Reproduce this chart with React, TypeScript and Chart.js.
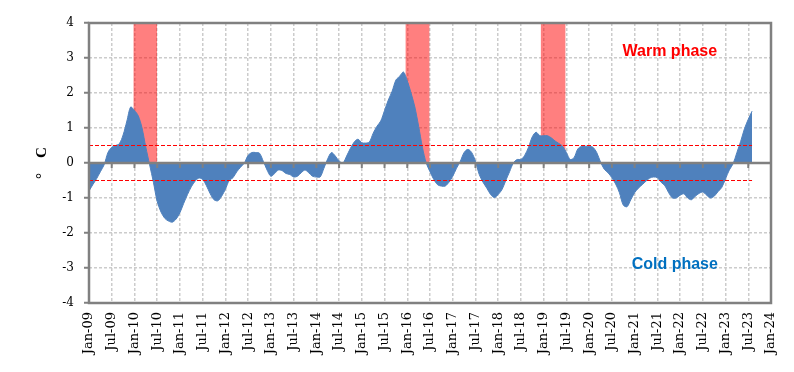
import React, { useEffect, useRef } from 'react';
import { Chart, registerables } from 'chart.js';

Chart.register(...registerables);

// Tick labels every 6 months, Jan-09 .. Jan-24 (month index 0 .. 180)
const tickLabels = [
  'Jan-09', 'Jul-09', 'Jan-10', 'Jul-10', 'Jan-11', 'Jul-11', 'Jan-12', 'Jul-12',
  'Jan-13', 'Jul-13', 'Jan-14', 'Jul-14', 'Jan-15', 'Jul-15', 'Jan-16', 'Jul-16',
  'Jan-17', 'Jul-17', 'Jan-18', 'Jul-18', 'Jan-19', 'Jul-19', 'Jan-20', 'Jul-20',
  'Jan-21', 'Jul-21', 'Jan-22', 'Jul-22', 'Jan-23', 'Jul-23', 'Jan-24',
];
const axisMonths = 180;
const tickStepMonths = 6;

// Monthly anomalies (°C), one array per year
const a2009 = [-0.8, -0.62, -0.45, -0.25, -0.05, 0.3, 0.45, 0.5, 0.55, 0.8, 1.2, 1.6];
const a2010 = [1.5, 1.35, 1.0, 0.45, -0.05, -0.55, -1.1, -1.4, -1.58, -1.66, -1.69, -1.6];
const a2011 = [-1.42, -1.15, -0.9, -0.68, -0.52, -0.43, -0.47, -0.65, -0.88, -1.05, -1.08, -0.95];
const a2012 = [-0.75, -0.5, -0.42, -0.25, -0.12, 0.0, 0.22, 0.3, 0.3, 0.28, 0.05, -0.2];
const a2013 = [-0.38, -0.3, -0.2, -0.22, -0.3, -0.33, -0.4, -0.38, -0.28, -0.2, -0.28, -0.38];
const a2014 = [-0.4, -0.4, -0.15, 0.12, 0.3, 0.2, 0.06, 0.0, 0.2, 0.42, 0.6, 0.68];
const a2015 = [0.58, 0.57, 0.6, 0.85, 1.05, 1.2, 1.5, 1.8, 2.05, 2.37, 2.48, 2.6];
const a2016 = [2.35, 2.0, 1.6, 1.05, 0.45, 0.0, -0.25, -0.47, -0.62, -0.66, -0.66, -0.55];
const a2017 = [-0.38, -0.15, 0.05, 0.3, 0.39, 0.3, 0.05, -0.33, -0.55, -0.72, -0.9, -0.99];
const a2018 = [-0.9, -0.76, -0.5, -0.25, 0.0, 0.1, 0.1, 0.22, 0.45, 0.75, 0.88, 0.78];
const a2019 = [0.78, 0.78, 0.72, 0.63, 0.56, 0.48, 0.3, 0.1, 0.15, 0.4, 0.48, 0.48];
const a2020 = [0.48, 0.45, 0.3, 0.03, -0.18, -0.28, -0.42, -0.6, -0.85, -1.2, -1.25, -1.05];
const a2021 = [-0.85, -0.72, -0.62, -0.52, -0.43, -0.4, -0.42, -0.55, -0.65, -0.85, -1.0, -1.0];
const a2022 = [-0.92, -0.88, -1.0, -1.05, -0.95, -0.87, -0.83, -0.92, -1.0, -0.95, -0.82, -0.7];
const a2023 = [-0.45, -0.2, -0.02, 0.3, 0.62, 0.98, 1.25, 1.48];

const anomalies = [
  ...a2009, ...a2010, ...a2011, ...a2012, ...a2013, ...a2014, ...a2015, ...a2016,
  ...a2017, ...a2018, ...a2019, ...a2020, ...a2021, ...a2022, ...a2023,
];

// Thresholds
const warmThreshold = 0.5;
const coldThreshold = -0.5;

// Warm-phase highlight periods (month index from Jan-09)
const warmStart = [11.7, 83.5, 119.2];
const warmEnd = [18.0, 89.9, 125.8];
const warmTop = 4;

// Annotation anchors [month index, value]
const warmLabelAt = [153.3, 3.17];
const coldLabelAt = [154.6, -2.89];

const AXIS_GRAY = '#808080';

const framePlugin = {
  id: 'frame',
  afterDatasetsDraw(chart: any) {
    const { ctx, chartArea: a, scales } = chart;
    const x = scales.x;
    const y = scales.y;
    ctx.save();
    ctx.setLineDash([]);
    ctx.strokeStyle = AXIS_GRAY;
    ctx.lineWidth = 2.5;
    ctx.beginPath();
    ctx.rect(a.left, a.top, a.right - a.left, a.bottom - a.top);
    ctx.stroke();
    const y0 = y.getPixelForValue(0);
    ctx.beginPath();
    ctx.moveTo(a.left, y0);
    ctx.lineTo(a.right, y0);
    ctx.stroke();
    ctx.lineWidth = 2;
    ctx.beginPath();
    for (const t of x.ticks) {
      const px = x.getPixelForValue(t.value);
      ctx.moveTo(px, y0);
      ctx.lineTo(px, y0 + 5);
    }
    ctx.stroke();

    ctx.font = 'bold 16px "Liberation Sans", Arial, sans-serif';
    ctx.textAlign = 'center';
    ctx.textBaseline = 'middle';
    ctx.fillStyle = '#FF0000';
    ctx.fillText('Warm phase', x.getPixelForValue(warmLabelAt[0]), y.getPixelForValue(warmLabelAt[1]));
    ctx.fillStyle = '#0070C0';
    ctx.fillText('Cold phase', x.getPixelForValue(coldLabelAt[0]), y.getPixelForValue(coldLabelAt[1]));
    ctx.restore();
  },
};

export default function App() {
  const ref = useRef<HTMLCanvasElement | null>(null);

  useEffect(() => {
    if (!ref.current) return;
    const series = anomalies.map((v, i) => ({ x: i, y: v }));
    const lastIdx = anomalies.length - 1;

    const warmSets = warmStart.map((s, k) => ({
      type: 'line' as const,
      data: [
        { x: s, y: warmTop },
        { x: warmEnd[k], y: warmTop },
      ],
      borderWidth: 0,
      borderColor: 'rgba(0,0,0,0)',
      backgroundColor: 'rgba(255,0,0,0.5)',
      fill: 'origin',
      pointRadius: 0,
      order: 3,
    }));

    const chart = new Chart(ref.current, {
      type: 'line',
      data: {
        datasets: [
          {
            data: [
              { x: 0, y: warmThreshold },
              { x: lastIdx, y: warmThreshold },
            ],
            borderColor: '#FF0000',
            borderWidth: 1,
            borderDash: [4, 2],
            pointRadius: 0,
            fill: false,
            order: 0,
          },
          {
            data: [
              { x: 0, y: coldThreshold },
              { x: lastIdx, y: coldThreshold },
            ],
            borderColor: '#FF0000',
            borderWidth: 1,
            borderDash: [4, 2],
            pointRadius: 0,
            fill: false,
            order: 0,
          },
          {
            data: series,
            borderColor: '#4F81BD',
            borderWidth: 1,
            backgroundColor: '#4F81BD',
            fill: 'origin',
            pointRadius: 0,
            tension: 0.3,
            order: 1,
          },
          ...warmSets,
        ] as any,
      },
      options: {
        animation: false,
        responsive: false,
        devicePixelRatio: 1,
        layout: { padding: { top: 23, right: 23, bottom: 0, left: 0 } },
        plugins: {
          legend: { display: false },
          tooltip: { enabled: false },
        },
        scales: {
          x: {
            type: 'linear',
            min: 0,
            max: axisMonths,
            afterFit(scale: any) {
              scale.height = 69;
              scale.paddingLeft = 0;
              scale.paddingRight = 0;
            },
            ticks: {
              stepSize: tickStepMonths,
              maxTicksLimit: 100,
              autoSkip: false,
              minRotation: 90,
              maxRotation: 90,
              padding: 9,
              color: '#000000',
              font: { family: '"DejaVu Serif", serif', size: 13 },
              callback: (v: any) => tickLabels[Math.round(Number(v) / tickStepMonths)] ?? '',
            },
            grid: {
              color: '#cccccc',
              lineWidth: 1.5,
              drawTicks: false,
            },
            border: { display: false, dash: [3, 2] },
          },
          y: {
            type: 'linear',
            min: -4,
            max: 4,
            afterFit(scale: any) {
              scale.width = 89;
              scale.paddingTop = 0;
              scale.paddingBottom = 0;
            },
            ticks: {
              stepSize: 1,
              maxTicksLimit: 100,
              padding: 10,
              color: '#000000',
              font: { family: '"DejaVu Serif", serif', size: 12 },
            },
            grid: {
              color: '#cccccc',
              lineWidth: 1.5,
              drawTicks: true,
              tickLength: 5,
              tickColor: AXIS_GRAY,
              tickWidth: 2,
              tickBorderDash: [],
            },
            border: { display: false, dash: [3, 2] },
            title: {
              display: true,
              text: '°    C',
              color: '#000000',
              font: { family: '"Liberation Serif", "Times New Roman", serif', size: 15, weight: 'bold' },
              padding: { top: 33, bottom: 0 },
            },
          },
        },
      },
      plugins: [framePlugin],
    });

    return () => chart.destroy();
  }, []);

  return (
    <div style={{ position: 'fixed', left: 0, top: 0, width: 794, height: 372, background: '#ffffff' }}>
      <canvas ref={ref} width={794} height={372} style={{ display: 'block', width: 794, height: 372 }} />
    </div>
  );
}
